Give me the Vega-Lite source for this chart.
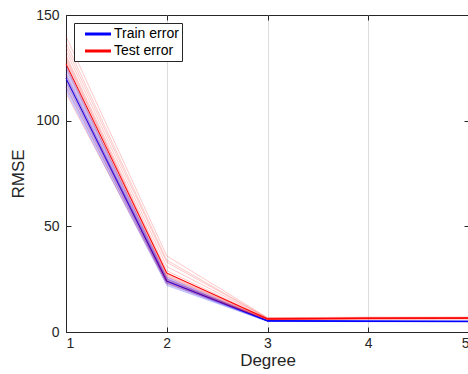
{
  "$schema": "https://vega.github.io/schema/vega-lite/v6.json",
  "autosize": "none",
  "width": 403,
  "height": 317,
  "padding": {"left": 66, "top": 15, "right": 0, "bottom": 42},
  "background": "white",
  "config": {
    "font": "Liberation Sans",
    "view": {"stroke": "#262626", "strokeWidth": 1},
    "axis": {
      "domainColor": "#262626",
      "tickColor": "#262626",
      "labelColor": "#262626",
      "titleColor": "#262626",
      "labelFont": "Liberation Sans",
      "titleFont": "Liberation Sans",
      "labelFontSize": 14,
      "titleFontSize": 17,
      "titleFontWeight": "normal",
      "tickSize": -5,
      "gridColor": "#dcdcdc",
      "gridWidth": 1
    },
    "legend": {
      "labelFont": "Liberation Sans"
    }
  },
  "datasets": {
    "runs": [
      {"set": "Train error", "trial": 1, "degree": 1, "rmse": 120}, {"set": "Train error", "trial": 1, "degree": 2, "rmse": 24.0}, {"set": "Train error", "trial": 1, "degree": 3, "rmse": 5.3}, {"set": "Train error", "trial": 1, "degree": 4, "rmse": 5.1}, {"set": "Train error", "trial": 1, "degree": 5, "rmse": 5.0},
      {"set": "Train error", "trial": 2, "degree": 1, "rmse": 117}, {"set": "Train error", "trial": 2, "degree": 2, "rmse": 23.0}, {"set": "Train error", "trial": 2, "degree": 3, "rmse": 5.2}, {"set": "Train error", "trial": 2, "degree": 4, "rmse": 5.0}, {"set": "Train error", "trial": 2, "degree": 5, "rmse": 4.9},
      {"set": "Train error", "trial": 3, "degree": 1, "rmse": 123}, {"set": "Train error", "trial": 3, "degree": 2, "rmse": 25.0}, {"set": "Train error", "trial": 3, "degree": 3, "rmse": 5.4}, {"set": "Train error", "trial": 3, "degree": 4, "rmse": 5.2}, {"set": "Train error", "trial": 3, "degree": 5, "rmse": 5.1},
      {"set": "Train error", "trial": 4, "degree": 1, "rmse": 115}, {"set": "Train error", "trial": 4, "degree": 2, "rmse": 22.5}, {"set": "Train error", "trial": 4, "degree": 3, "rmse": 5.1}, {"set": "Train error", "trial": 4, "degree": 4, "rmse": 4.9}, {"set": "Train error", "trial": 4, "degree": 5, "rmse": 4.8},
      {"set": "Train error", "trial": 5, "degree": 1, "rmse": 121}, {"set": "Train error", "trial": 5, "degree": 2, "rmse": 24.5}, {"set": "Train error", "trial": 5, "degree": 3, "rmse": 5.3}, {"set": "Train error", "trial": 5, "degree": 4, "rmse": 5.1}, {"set": "Train error", "trial": 5, "degree": 5, "rmse": 5.0},
      {"set": "Train error", "trial": 6, "degree": 1, "rmse": 118}, {"set": "Train error", "trial": 6, "degree": 2, "rmse": 23.5}, {"set": "Train error", "trial": 6, "degree": 3, "rmse": 5.2}, {"set": "Train error", "trial": 6, "degree": 4, "rmse": 5.0}, {"set": "Train error", "trial": 6, "degree": 5, "rmse": 5.0},
      {"set": "Train error", "trial": 7, "degree": 1, "rmse": 125}, {"set": "Train error", "trial": 7, "degree": 2, "rmse": 25.5}, {"set": "Train error", "trial": 7, "degree": 3, "rmse": 5.5}, {"set": "Train error", "trial": 7, "degree": 4, "rmse": 5.3}, {"set": "Train error", "trial": 7, "degree": 5, "rmse": 5.2},
      {"set": "Train error", "trial": 8, "degree": 1, "rmse": 114}, {"set": "Train error", "trial": 8, "degree": 2, "rmse": 22.0}, {"set": "Train error", "trial": 8, "degree": 3, "rmse": 5.0}, {"set": "Train error", "trial": 8, "degree": 4, "rmse": 4.9}, {"set": "Train error", "trial": 8, "degree": 5, "rmse": 4.8},
      {"set": "Train error", "trial": 9, "degree": 1, "rmse": 122}, {"set": "Train error", "trial": 9, "degree": 2, "rmse": 24.2}, {"set": "Train error", "trial": 9, "degree": 3, "rmse": 5.3}, {"set": "Train error", "trial": 9, "degree": 4, "rmse": 5.2}, {"set": "Train error", "trial": 9, "degree": 5, "rmse": 5.1},
      {"set": "Train error", "trial": 10, "degree": 1, "rmse": 119}, {"set": "Train error", "trial": 10, "degree": 2, "rmse": 23.8}, {"set": "Train error", "trial": 10, "degree": 3, "rmse": 5.2}, {"set": "Train error", "trial": 10, "degree": 4, "rmse": 5.1}, {"set": "Train error", "trial": 10, "degree": 5, "rmse": 5.0},
      {"set": "Train error", "trial": 11, "degree": 1, "rmse": 124}, {"set": "Train error", "trial": 11, "degree": 2, "rmse": 25.2}, {"set": "Train error", "trial": 11, "degree": 3, "rmse": 5.4}, {"set": "Train error", "trial": 11, "degree": 4, "rmse": 5.2}, {"set": "Train error", "trial": 11, "degree": 5, "rmse": 5.1},
      {"set": "Train error", "trial": 12, "degree": 1, "rmse": 116}, {"set": "Train error", "trial": 12, "degree": 2, "rmse": 23.2}, {"set": "Train error", "trial": 12, "degree": 3, "rmse": 5.1}, {"set": "Train error", "trial": 12, "degree": 4, "rmse": 5.0}, {"set": "Train error", "trial": 12, "degree": 5, "rmse": 4.9},
      {"set": "Train error", "trial": 13, "degree": 1, "rmse": 121}, {"set": "Train error", "trial": 13, "degree": 2, "rmse": 24.8}, {"set": "Train error", "trial": 13, "degree": 3, "rmse": 5.3}, {"set": "Train error", "trial": 13, "degree": 4, "rmse": 5.1}, {"set": "Train error", "trial": 13, "degree": 5, "rmse": 5.0},
      {"set": "Train error", "trial": 14, "degree": 1, "rmse": 126}, {"set": "Train error", "trial": 14, "degree": 2, "rmse": 26.0}, {"set": "Train error", "trial": 14, "degree": 3, "rmse": 5.6}, {"set": "Train error", "trial": 14, "degree": 4, "rmse": 5.3}, {"set": "Train error", "trial": 14, "degree": 5, "rmse": 5.2},
      {"set": "Train error", "trial": 15, "degree": 1, "rmse": 119}, {"set": "Train error", "trial": 15, "degree": 2, "rmse": 24.0}, {"set": "Train error", "trial": 15, "degree": 3, "rmse": 5.2}, {"set": "Train error", "trial": 15, "degree": 4, "rmse": 5.0}, {"set": "Train error", "trial": 15, "degree": 5, "rmse": 4.9},
      {"set": "Test error", "trial": 1, "degree": 1, "rmse": 128}, {"set": "Test error", "trial": 1, "degree": 2, "rmse": 27}, {"set": "Test error", "trial": 1, "degree": 3, "rmse": 6.2}, {"set": "Test error", "trial": 1, "degree": 4, "rmse": 6.5}, {"set": "Test error", "trial": 1, "degree": 5, "rmse": 6.6},
      {"set": "Test error", "trial": 2, "degree": 1, "rmse": 135}, {"set": "Test error", "trial": 2, "degree": 2, "rmse": 33}, {"set": "Test error", "trial": 2, "degree": 3, "rmse": 6.5}, {"set": "Test error", "trial": 2, "degree": 4, "rmse": 6.8}, {"set": "Test error", "trial": 2, "degree": 5, "rmse": 6.9},
      {"set": "Test error", "trial": 3, "degree": 1, "rmse": 122}, {"set": "Test error", "trial": 3, "degree": 2, "rmse": 25}, {"set": "Test error", "trial": 3, "degree": 3, "rmse": 6.0}, {"set": "Test error", "trial": 3, "degree": 4, "rmse": 6.3}, {"set": "Test error", "trial": 3, "degree": 5, "rmse": 6.4},
      {"set": "Test error", "trial": 4, "degree": 1, "rmse": 140}, {"set": "Test error", "trial": 4, "degree": 2, "rmse": 36}, {"set": "Test error", "trial": 4, "degree": 3, "rmse": 6.8}, {"set": "Test error", "trial": 4, "degree": 4, "rmse": 7.0}, {"set": "Test error", "trial": 4, "degree": 5, "rmse": 7.0},
      {"set": "Test error", "trial": 5, "degree": 1, "rmse": 118}, {"set": "Test error", "trial": 5, "degree": 2, "rmse": 24}, {"set": "Test error", "trial": 5, "degree": 3, "rmse": 5.9}, {"set": "Test error", "trial": 5, "degree": 4, "rmse": 6.2}, {"set": "Test error", "trial": 5, "degree": 5, "rmse": 6.3},
      {"set": "Test error", "trial": 6, "degree": 1, "rmse": 131}, {"set": "Test error", "trial": 6, "degree": 2, "rmse": 29}, {"set": "Test error", "trial": 6, "degree": 3, "rmse": 6.3}, {"set": "Test error", "trial": 6, "degree": 4, "rmse": 6.6}, {"set": "Test error", "trial": 6, "degree": 5, "rmse": 6.7},
      {"set": "Test error", "trial": 7, "degree": 1, "rmse": 125}, {"set": "Test error", "trial": 7, "degree": 2, "rmse": 26}, {"set": "Test error", "trial": 7, "degree": 3, "rmse": 6.1}, {"set": "Test error", "trial": 7, "degree": 4, "rmse": 6.4}, {"set": "Test error", "trial": 7, "degree": 5, "rmse": 6.5},
      {"set": "Test error", "trial": 8, "degree": 1, "rmse": 137}, {"set": "Test error", "trial": 8, "degree": 2, "rmse": 34}, {"set": "Test error", "trial": 8, "degree": 3, "rmse": 6.6}, {"set": "Test error", "trial": 8, "degree": 4, "rmse": 6.9}, {"set": "Test error", "trial": 8, "degree": 5, "rmse": 6.9},
      {"set": "Test error", "trial": 9, "degree": 1, "rmse": 113}, {"set": "Test error", "trial": 9, "degree": 2, "rmse": 23}, {"set": "Test error", "trial": 9, "degree": 3, "rmse": 5.8}, {"set": "Test error", "trial": 9, "degree": 4, "rmse": 6.1}, {"set": "Test error", "trial": 9, "degree": 5, "rmse": 6.2},
      {"set": "Test error", "trial": 10, "degree": 1, "rmse": 129}, {"set": "Test error", "trial": 10, "degree": 2, "rmse": 28}, {"set": "Test error", "trial": 10, "degree": 3, "rmse": 6.2}, {"set": "Test error", "trial": 10, "degree": 4, "rmse": 6.5}, {"set": "Test error", "trial": 10, "degree": 5, "rmse": 6.6},
      {"set": "Test error", "trial": 11, "degree": 1, "rmse": 133}, {"set": "Test error", "trial": 11, "degree": 2, "rmse": 31}, {"set": "Test error", "trial": 11, "degree": 3, "rmse": 6.4}, {"set": "Test error", "trial": 11, "degree": 4, "rmse": 6.7}, {"set": "Test error", "trial": 11, "degree": 5, "rmse": 6.8},
      {"set": "Test error", "trial": 12, "degree": 1, "rmse": 120}, {"set": "Test error", "trial": 12, "degree": 2, "rmse": 24.5}, {"set": "Test error", "trial": 12, "degree": 3, "rmse": 6.0}, {"set": "Test error", "trial": 12, "degree": 4, "rmse": 6.3}, {"set": "Test error", "trial": 12, "degree": 5, "rmse": 6.4},
      {"set": "Test error", "trial": 13, "degree": 1, "rmse": 126}, {"set": "Test error", "trial": 13, "degree": 2, "rmse": 26.5}, {"set": "Test error", "trial": 13, "degree": 3, "rmse": 6.1}, {"set": "Test error", "trial": 13, "degree": 4, "rmse": 6.4}, {"set": "Test error", "trial": 13, "degree": 5, "rmse": 6.5},
      {"set": "Test error", "trial": 14, "degree": 1, "rmse": 116}, {"set": "Test error", "trial": 14, "degree": 2, "rmse": 23.5}, {"set": "Test error", "trial": 14, "degree": 3, "rmse": 5.9}, {"set": "Test error", "trial": 14, "degree": 4, "rmse": 6.2}, {"set": "Test error", "trial": 14, "degree": 5, "rmse": 6.3},
      {"set": "Test error", "trial": 15, "degree": 1, "rmse": 130}, {"set": "Test error", "trial": 15, "degree": 2, "rmse": 27.5}, {"set": "Test error", "trial": 15, "degree": 3, "rmse": 6.3}, {"set": "Test error", "trial": 15, "degree": 4, "rmse": 6.6}, {"set": "Test error", "trial": 15, "degree": 5, "rmse": 6.7}
    ]
  },
  "data": {"name": "runs"},
  "layer": [
    {
      "mark": {"type": "line", "strokeWidth": 1},
      "encoding": {
        "x": {"field": "degree", "type": "quantitative", "scale": {"domain": [1, 5], "nice": false},
          "axis": {"orient": "bottom", "values": [1, 2, 3, 4, 5], "format": "d", "title": "Degree", "grid": true, "labelPadding": 9, "titlePadding": 2}},
        "y": {"field": "rmse", "aggregate": "mean", "type": "quantitative", "scale": {"domain": [0, 150], "nice": false},
          "axis": {"orient": "left", "values": [0, 50, 100, 150], "title": "RMSE", "grid": false, "labelPadding": 12, "titlePadding": 8}},
        "color": {"field": "set", "type": "nominal",
          "scale": {"domain": ["Train error", "Test error"], "range": ["#0000ff", "#ff0000"]},
          "legend": {"orient": "top-left", "offset": 8, "title": null, "symbolType": "M0,0L4,0", "symbolSize": 169, "symbolStrokeWidth": 3,
            "labelFontSize": 14, "labelColor": "#000000", "strokeColor": "#262626", "fillColor": "white", "padding": 3, "rowPadding": 2, "labelOffset": 21}}
      }
    },
    {
      "transform": [{"filter": "datum.set === 'Train error'"}],
      "mark": {"type": "line", "color": "#0000ff", "opacity": 0.22, "strokeWidth": 1},
      "encoding": {
        "x": {"field": "degree", "type": "quantitative",
          "axis": {"orient": "top", "values": [1, 2, 3, 4, 5], "labels": false, "title": null, "grid": false, "domain": false}},
        "y": {"field": "rmse", "type": "quantitative",
          "axis": {"orient": "right", "values": [0, 50, 100, 150], "labels": false, "title": null, "grid": false, "domain": false}},
        "detail": {"field": "trial"}
      }
    },
    {
      "transform": [{"filter": "datum.set === 'Test error'"}],
      "mark": {"type": "line", "color": "#ff0000", "opacity": 0.22, "strokeWidth": 1},
      "encoding": {
        "x": {"field": "degree", "type": "quantitative", "axis": null},
        "y": {"field": "rmse", "type": "quantitative", "axis": null},
        "detail": {"field": "trial"}
      }
    }
  ],
  "resolve": {"axis": {"x": "independent", "y": "independent"}}
}
